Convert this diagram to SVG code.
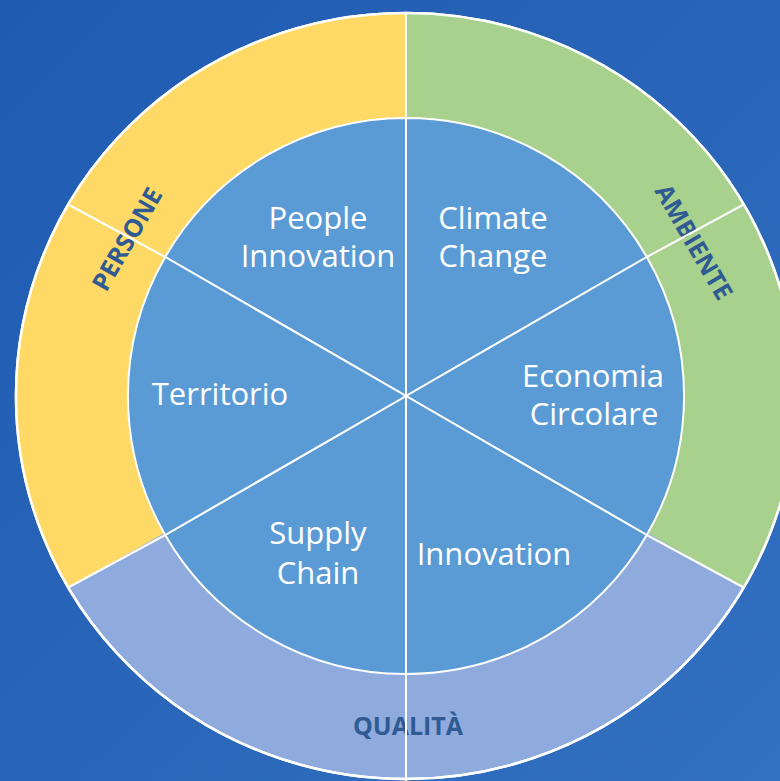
<svg xmlns="http://www.w3.org/2000/svg" width="780" height="781" viewBox="0 0 780 781">
  <defs>
    <linearGradient id="bg" x1="0" y1="0" x2="1" y2="1">
      <stop offset="0" stop-color="#1f5bb1"/>
      <stop offset="1" stop-color="#3270c0"/>
    </linearGradient>
  </defs>
  <style>
    .sector { fill: #5B9BD5; stroke: #ffffff; stroke-width: 2; }
    .inner { font-family: "Open Sans", "Liberation Sans", sans-serif; font-size: 31px; fill: #ffffff; text-anchor: middle; }
    .label { font-family: "Open Sans", "Liberation Sans", sans-serif; font-size: 25px; font-weight: bold; fill: #2F5A92; text-anchor: middle; }
    .div { stroke: #ffffff; stroke-width: 2; fill: none; }
  </style>
  <rect width="780" height="781" fill="url(#bg)"/>

  <g id="ring-qualita">
    <ellipse cx="406" cy="396" rx="390" ry="383" fill="#8FAADC" stroke="#ffffff" stroke-width="2.5"/>
    <text class="label" x="408" y="735">QUALITÀ</text>
  </g>
  <g id="ring-persone">
    <path d="M406,396 L406,13 A390,383 0 0 0 68.3,587.5 Z" fill="#FFD966"/>
    <text class="label" transform="translate(127,239) rotate(-60)" x="0" y="9">PERSONE</text>
  </g>
  <g id="ring-ambiente">
    <path d="M406,396 L406,13 A390,383 0 0 1 743.7,587.5 Z" fill="#A9D18E"/>
    <text class="label" transform="translate(694,242) rotate(60)" x="0" y="9">AMBIENTE</text>
  </g>
  <ellipse cx="406" cy="396" rx="390" ry="383" fill="none" stroke="#ffffff" stroke-width="2.5"/>

  <g id="dividers">
    <line class="div" x1="406" y1="118" x2="406" y2="13"/>
    <line class="div" x1="406" y1="674" x2="406" y2="781"/>
    <line class="div" x1="165.2" y1="257" x2="68.3" y2="204.5"/>
    <line class="div" x1="646.8" y1="257" x2="743.7" y2="204.5"/>
    <line class="div" x1="165.2" y1="535" x2="68.3" y2="587.5"/>
    <line class="div" x1="646.8" y1="535" x2="743.7" y2="587.5"/>
  </g>

  <g id="sector-people-innovation">
    <path class="sector" d="M406,396 L406,118 A278,278 0 0 0 165.2,257 Z"/>
    <text class="inner" x="318" y="229">People</text>
    <text class="inner" x="318" y="267">Innovation</text>
  </g>
  <g id="sector-climate-change">
    <path class="sector" d="M406,396 L406,118 A278,278 0 0 1 646.8,257 Z"/>
    <text class="inner" x="493" y="229">Climate</text>
    <text class="inner" x="493" y="267">Change</text>
  </g>
  <g id="sector-economia-circolare">
    <path class="sector" d="M406,396 L646.8,257 A278,278 0 0 1 646.8,535 Z"/>
    <text class="inner" x="593" y="387">Economia</text>
    <text class="inner" x="594" y="425">Circolare</text>
  </g>
  <g id="sector-innovation">
    <path class="sector" d="M406,396 L646.8,535 A278,278 0 0 1 406,674 Z"/>
    <text class="inner" x="494" y="565">Innovation</text>
  </g>
  <g id="sector-supply-chain">
    <path class="sector" d="M406,396 L406,674 A278,278 0 0 1 165.2,535 Z"/>
    <text class="inner" x="318" y="544">Supply</text>
    <text class="inner" x="318" y="584">Chain</text>
  </g>
  <g id="sector-territorio">
    <path class="sector" d="M406,396 L165.2,535 A278,278 0 0 1 165.2,257 Z"/>
    <text class="inner" x="220" y="405">Territorio</text>
  </g>
</svg>
